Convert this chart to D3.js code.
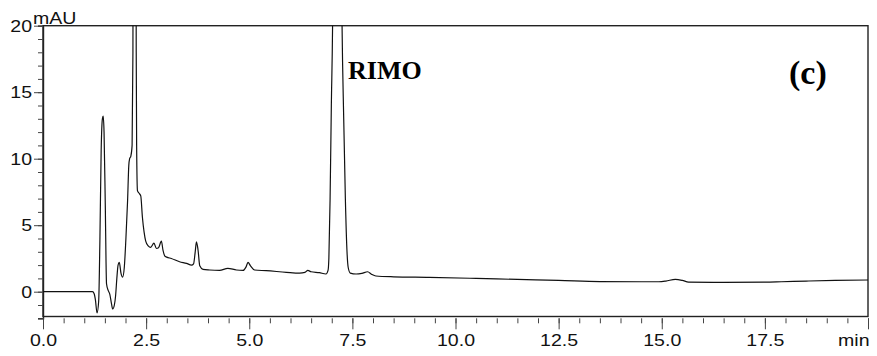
<!DOCTYPE html>
<html>
<head>
<meta charset="utf-8">
<script src="https://cdn.jsdelivr.net/npm/d3@7"></script>
<style>
  body { margin: 0; background: #fff; }
  svg text { font-family: "Liberation Sans", Arial, sans-serif; }
</style>
</head>
<body>
<div id="chart"></div>
<script>
// retention time (min) and absorbance (mAU)
const times = [0, 1.20, 1.24, 1.27, 1.31, 1.35, 1.38, 1.41, 1.44, 1.46, 1.48, 1.51, 1.54, 1.58, 1.62, 1.66, 1.69, 1.73, 1.76, 1.79,
  1.82, 1.85, 1.89, 1.93, 1.97, 2.01, 2.05, 2.08, 2.10, 2.13, 2.16, 2.18, 2.19, 2.22, 2.25, 2.26, 2.27, 2.29, 2.33, 2.37,
  2.41, 2.45, 2.49, 2.55, 2.61, 2.69, 2.75, 2.80, 2.87, 2.91, 2.95, 3.00, 3.11, 3.31, 3.48, 3.60, 3.65, 3.69, 3.72, 3.76,
  3.80, 3.88, 4.04, 4.28, 4.48, 4.69, 4.85, 4.92, 4.97, 5.03, 5.13, 5.41, 5.90, 6.22, 6.35, 6.42, 6.50, 6.70, 6.86, 6.91,
  6.93, 6.96, 6.99, 7.02, 7.06, 7.13, 7.20, 7.25, 7.29, 7.33, 7.37, 7.40, 7.45, 7.59, 7.73, 7.87, 7.97, 8.07, 8.50, 9.36,
  10.5, 11.5, 12.5, 13.5, 14.5, 14.93, 15.10, 15.33, 15.50, 15.65, 16.5, 17.5, 17.9, 18.5, 19.2, 20];
const mAU = [0, 0, -0.15, -0.6, -1.6, -0.7, 4, 10.6, 13.0, 13.2, 12.0, 6.5, 0.6, 0.1, -0.2, -0.9, -1.3, -1.0, -0.3, 1.0,
  2.0, 2.2, 1.4, 1.1, 1.8, 4.0, 6.8, 9.5, 10.0, 10.2, 11, 18, 40, 80, 40, 18, 11, 7.6, 7.4, 7.2,
  5.6, 4.5, 3.8, 3.45, 3.33, 3.65, 3.25, 3.3, 3.8, 3.1, 2.7, 2.6, 2.5, 2.25, 2.13, 2.0, 2.1, 3.0, 3.75, 3.1,
  1.95, 1.68, 1.63, 1.6, 1.76, 1.63, 1.6, 1.85, 2.2, 1.95, 1.63, 1.58, 1.46, 1.4, 1.45, 1.6, 1.5, 1.43, 1.33, 1.6,
  2.5, 7, 14, 20, 40, 55, 40, 20, 13, 7, 3, 1.8, 1.4, 1.33, 1.38, 1.5, 1.3, 1.18, 1.12, 1.08,
  1.0, 0.92, 0.85, 0.76, 0.75, 0.75, 0.8, 0.93, 0.85, 0.72, 0.7, 0.72, 0.75, 0.8, 0.85, 0.88];

const xMajor = [0, 2.5, 5, 7.5, 10, 12.5, 15, 17.5, 20];
const xLabels = ["0.0", "2.5", "5.0", "7.5", "10.0", "12.5", "15.0", "17.5", "min"];
const yMajor = [0, 5, 10, 15, 20];

const width = 877;
const height = 356;
const plotLeft = 43, plotRight = 868, plotTop = 25.7, frameBottom = 316.5;

const svg = d3.select('#chart')
  .append('svg')
  .attr('width', width)
  .attr('height', height);

const x = d3.scaleLinear().domain([0, 20]).range([plotLeft, plotRight]);
const y = d3.scaleLinear().domain([-2, 20]).range([318.3, plotTop]);

// clip so the big peaks run off the top of the frame
svg.append('clipPath')
  .attr('id', 'plot-clip')
  .append('rect')
  .attr('x', plotLeft)
  .attr('y', plotTop)
  .attr('width', plotRight - plotLeft)
  .attr('height', frameBottom - plotTop);

// frame
svg.append('rect')
  .attr('x', plotLeft)
  .attr('y', plotTop)
  .attr('width', plotRight - plotLeft)
  .attr('height', frameBottom - plotTop)
  .attr('fill', 'none')
  .attr('stroke', '#222')
  .attr('stroke-width', 1.4);

// y axis: minor ticks every 1, major every 5
const yMinor = svg.append('g')
  .attr('transform', 'translate(' + plotLeft + ',0)')
  .call(d3.axisLeft(y).tickValues(d3.range(-2, 21, 1)).tickSize(5).tickFormat(''));
yMinor.select('.domain').attr('stroke', '#222').attr('stroke-width', 1.4);
yMinor.selectAll('line').attr('stroke', '#444');

const yAx = svg.append('g')
  .attr('transform', 'translate(' + plotLeft + ',0)')
  .call(d3.axisLeft(y).tickValues(yMajor).tickSize(9).tickPadding(2));
yAx.select('.domain').remove();
yAx.selectAll('line').attr('stroke', '#444');
yAx.selectAll('text')
  .attr('font-size', 17)
  .attr('fill', '#111')
  .attr('x', -11 / 1.15)
  .attr('transform', 'scale(1.15,1)');

// x axis: ticks only, hanging under the frame
const xMinor = svg.append('g')
  .attr('transform', 'translate(0,318.3)')
  .call(d3.axisBottom(x).tickValues(d3.range(0, 20.01, 0.5)).tickSize(5).tickFormat(''));
xMinor.select('.domain').remove();
xMinor.selectAll('line').attr('stroke', '#444');

const xAx = svg.append('g')
  .attr('transform', 'translate(0,318.3)')
  .call(d3.axisBottom(x).tickValues(xMajor).tickSize(11)
    .tickFormat((d, i) => xLabels[i]));
xAx.select('.domain').remove();
xAx.selectAll('line').attr('stroke', '#444');
xAx.selectAll('text')
  .attr('font-size', 17)
  .attr('fill', '#111')
  .attr('y', 16)
  .attr('dy', '0.71em')
  .attr('transform', 'scale(1.15,1)');
xAx.selectAll('text').filter((d, i) => i === xLabels.length - 1)
  .attr('text-anchor', 'end')
  .attr('x', 1 / 1.15);

// unit label
svg.append('text')
  .attr('transform', 'translate(33,23.5) scale(1.15,1)')
  .attr('font-size', 17)
  .attr('fill', '#111')
  .text('mAU');

// chromatogram trace
const points = times.map((t, i) => [t, mAU[i]]);
svg.append('path')
  .datum(points)
  .attr('clip-path', 'url(#plot-clip)')
  .attr('fill', 'none')
  .attr('stroke', '#111')
  .attr('stroke-width', 1.2)
  .attr('d', d3.line()
    .x(d => x(d[0]))
    .y(d => y(d[1]))
    .curve(d3.curveMonotoneX));

// annotations
svg.append('text')
  .attr('x', 348)
  .attr('y', 79)
  .attr('font-weight', 'bold')
  .attr('font-size', 26)
  .attr('fill', '#000')
  .style('font-family', '"Liberation Serif", "Times New Roman", serif')
  .text('RIMO');

svg.append('text')
  .attr('x', 789)
  .attr('y', 84)
  .attr('font-weight', 'bold')
  .attr('font-size', 34)
  .attr('fill', '#000')
  .style('font-family', '"Liberation Serif", "Times New Roman", serif')
  .text('(c)');
</script>
</body>
</html>
